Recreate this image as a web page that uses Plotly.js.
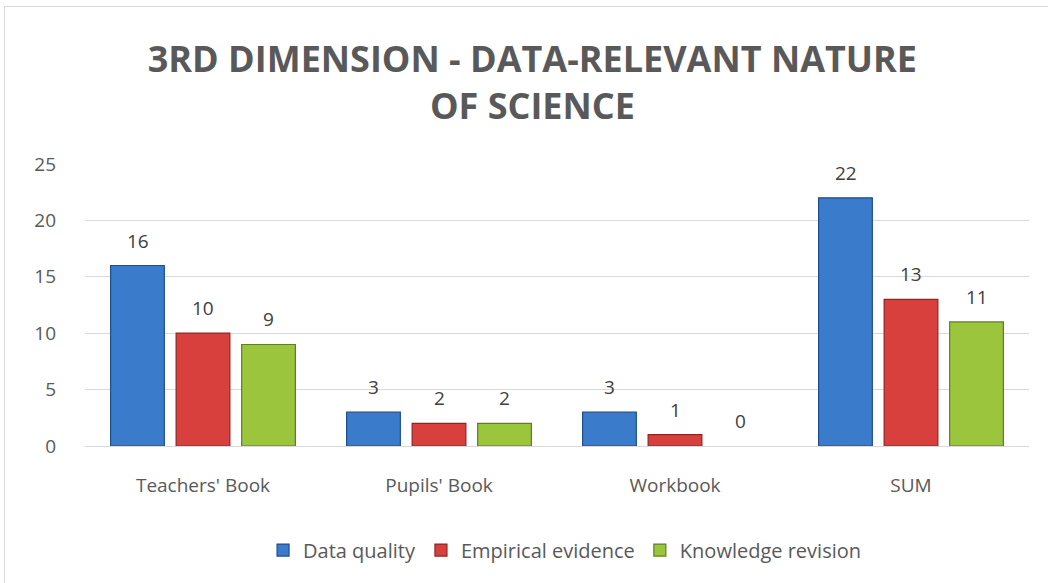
<!DOCTYPE html>
<html>
<head>
<meta charset="utf-8">
<script src="https://cdn.plot.ly/plotly-3.0.1.min.js"></script>
<style>
html,body{margin:0;padding:0;background:#fff;overflow:hidden;}
#frame{position:absolute;left:4px;top:6px;width:1100px;height:640px;border:1px solid #d9d9d9;box-sizing:border-box;}
#chart{position:absolute;left:0;top:0;width:1048px;height:583px;}
</style>
</head>
<body>
<div id="frame"></div>
<div id="chart"></div>
<script>
var categories = ["Teachers' Book", "Pupils' Book", "Workbook", "SUM"];
var dataQuality = [16, 3, 3, 22];
var empiricalEvidence = [10, 2, 1, 13];
var knowledgeRevision = [9, 2, 0, 11];
var seriesNames = ["Data quality", "Empirical evidence", "Knowledge revision"];
var yTicks = [0, 5, 10, 15, 20, 25];

var fills = ["#3b7bcb", "#d8403d", "#9bc53d"];
var edges = ["#1f4f8a", "#8f2523", "#607f20"];
var series = [dataQuality, empiricalEvidence, knowledgeRevision];
var FONT = "Open Sans, sans-serif";

var traces = series.map(function (vals, i) {
  return {
    type: "bar",
    name: seriesNames[i],
    x: categories,
    y: vals,
    marker: {
      color: fills[i],
      line: {color: edges[i], width: vals.map(function (v) { return v > 0 ? 1.2 : 0; })}
    },
    hoverinfo: "none"
  };
});

// value labels placed above each bar (offset to the bar's slot within the group)
var annotations = [];
series.forEach(function (vals, i) {
  vals.forEach(function (v, j) {
    annotations.push({
      x: categories[j], y: v, xref: "x", yref: "y",
      text: String(v), showarrow: false,
      xshift: (i - 1) * 65.5, yshift: 25,
      font: {family: FONT, size: 19, color: "#404040"}
    });
  });
});

var layout = {
  width: 1048,
  height: 583,
  paper_bgcolor: "rgba(0,0,0,0)",
  plot_bgcolor: "rgba(0,0,0,0)",
  margin: {l: 85, r: 19, t: 164, b: 137},
  title: {
    text: "3RD DIMENSION - DATA-RELEVANT NATURE<br>OF SCIENCE",
    font: {family: FONT, size: 36, color: "#595959", weight: "bold"},
    x: 0.508, xanchor: "center",
    yref: "container", y: 0.877, yanchor: "middle"
  },
  annotations: annotations,
  barmode: "group",
  bargap: 0.167,
  bargroupgap: 0.18,
  showlegend: true,
  legend: {
    orientation: "h",
    x: 0.508, xanchor: "center",
    y: -0.30, yanchor: "top",
    font: {family: FONT, size: 20, color: "#595959"},
    traceorder: "normal"
  },
  xaxis: {
    tickfont: {family: FONT, size: 19, color: "#595959"},
    showline: true, linecolor: "#d9d9d9", linewidth: 1,
    ticks: "", showgrid: false,
    ticklabelstandoff: 22
  },
  yaxis: {
    range: [0, 25],
    tickvals: yTicks,
    ticktext: yTicks.map(String),
    tickfont: {family: FONT, size: 19, color: "#595959"},
    gridcolor: "#d9d9d9", gridwidth: 1,
    zeroline: false, showline: false,
    ticklabelstandoff: 28
  }
};

Plotly.newPlot("chart", traces, layout, {displayModeBar: false, staticPlot: true});
</script>
</body>
</html>
